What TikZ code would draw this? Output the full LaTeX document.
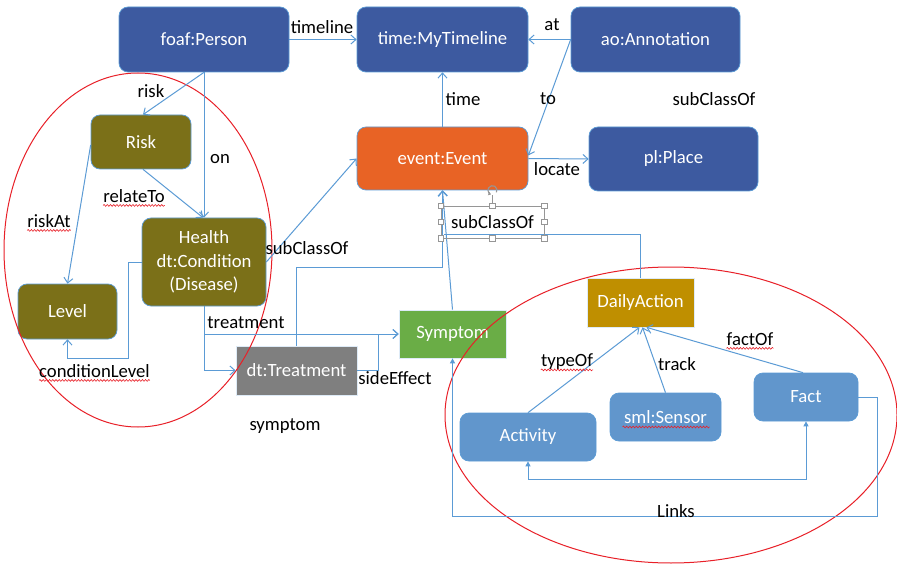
\documentclass[tikz,border=0pt]{standalone}
\usepackage{fontspec}
\setmainfont{Carlito}
\usetikzlibrary{arrows.meta,decorations.pathmorphing,calc}

\definecolor{ontoblue}{RGB}{61,90,160}
\definecolor{olive}{RGB}{123,112,24}
\definecolor{evorange}{RGB}{232,99,37}
\definecolor{sympgreen}{RGB}{106,173,70}
\definecolor{treatgray}{RGB}{127,127,127}
\definecolor{gold}{RGB}{191,143,0}
\definecolor{actblue}{RGB}{97,150,204}
\definecolor{linkblue}{RGB}{91,155,213}
\definecolor{ringred}{RGB}{232,32,40}
\definecolor{handlegray}{RGB}{150,150,150}

\tikzset{
  txt/.style={font=\fontsize{18.7}{23.5}\selectfont, inner sep=0pt},
  box/.style={txt, text=white, align=center, draw=linkblue, line width=0.7pt},
  roundbox/.style={box, rounded corners=9pt},
  plainbox/.style={box, draw=white!80!linkblue},
  lbl/.style={txt, text=black},
  link/.style={draw=linkblue, line width=1pt, -{Straight Barb[length=5pt,width=9pt]}},
  plainlink/.style={draw=linkblue, line width=1pt},
  ring/.style={draw=ringred, line width=1pt},
  spell/.style={draw=ringred, line width=0.6pt,
    decorate, decoration={snake, segment length=3.2pt, amplitude=0.9pt}},
  grip/.style={draw=handlegray, fill=white, line width=0.6pt, minimum size=5.5pt, inner sep=0pt}
}

\begin{document}
\begin{tikzpicture}[x=1pt,y=-1pt]
\useasboundingbox[fill=white] (0,0) rectangle (897,564);

% --- classes ---
\node[roundbox, fill=ontoblue, minimum width=170pt, minimum height=65pt] (person) at (204,39.5) {foaf:Person};
\node[roundbox, fill=ontoblue, minimum width=171pt, minimum height=65pt] (timeline) at (442.5,39.5) {time:MyTimeline};
\node[roundbox, fill=ontoblue, minimum width=169pt, minimum height=65pt] (annot) at (655.5,39.5) {ao:Annotation};
\node[roundbox, fill=evorange, minimum width=171pt, minimum height=63pt] (event) at (442.5,158.5) {event:Event};
\node[roundbox, fill=ontoblue, minimum width=169pt, minimum height=64pt] (place) at (673.5,159) {pl:Place};

\node[roundbox, fill=olive, minimum width=100pt, minimum height=54pt] (risk) at (141,142) {Risk};
\node[roundbox, fill=olive, minimum width=124pt, minimum height=88pt] (health) at (204,262) {Health\\dt:Condition\\(Disease)};
\node[roundbox, fill=olive, minimum width=99pt, minimum height=55pt] (level) at (67.5,311.5) {Level};

\node[plainbox, fill=treatgray, minimum width=121pt, minimum height=49pt] (treat) at (296.5,370.5) {dt:Treatment};
\node[plainbox, fill=sympgreen, minimum width=107pt, minimum height=48pt] (symptom) at (452.5,334) {Symptom};
\node[plainbox, fill=gold, minimum width=107pt, minimum height=49pt] (daily) at (640.5,302.5) {DailyAction};

\node[roundbox, fill=actblue, minimum width=136pt, minimum height=48pt] (activity) at (528,437) {Activity};
\node[roundbox, fill=actblue, minimum width=111pt, minimum height=48pt] (sensor) at (665.5,417) {sml:Sensor};
\node[roundbox, fill=actblue, minimum width=104pt, minimum height=48pt] (fact) at (806,397) {Fact};

% --- groupings ---
\draw[ring] (138,250) ellipse [x radius=134, y radius=177];
\draw[ring] (671,415) ellipse [x radius=226, y radius=148];

% --- connectors ---
\draw[link] (person.east) -- (timeline.west);
\draw[link] (annot.west) -- (timeline.east);
\draw[link] (annot.west) -- ([yshift=3pt]event.east);
\draw[link] (event.north) -- (timeline.south);
\draw[link] (event.east) -- (place.west);

\draw[link] (person.south) -- ([xshift=2pt]risk.north);
\draw[link] (person.south) -- (health.north);
\draw[link] ([xshift=2pt]risk.south) -- ([xshift=-1pt]health.north);
\draw[link] ([yshift=-3pt]risk.west) -- (level.north);
\draw[link] (health.west) -- ++(-13,0) -- ++(0,96) -| (level.south);
\draw[link] (health.east) -- (event.west);

\draw[link] (health.south) |- (symptom.west);
\draw[link] (health.south) |- (treat.west);
\draw[link] (treat.east) -- ++(21,0) |- (symptom.west);
\draw[link] (treat.north) -- ++(0,-78) -| (event.south);

\draw[link] (symptom.north) -- (event.south);
\draw[plainlink] (daily.north) |- ([xshift=1pt,yshift=-44pt]event.south);

\draw[link] (activity.north) -- ([xshift=-1pt]daily.south);
\draw[link] (sensor.north) -- ([xshift=2pt]daily.south);
\draw[link] ([xshift=-3pt]fact.north) -- ([xshift=6pt]daily.south);
\draw[plainlink, {Triangle[length=5pt,width=5pt]}-{Triangle[length=5pt,width=5pt]}]
  (activity.south) -- ++(0,18) -| (fact.south);
\draw[plainlink, -{Triangle[length=5pt,width=5pt]}]
  (fact.east) -- ++(19,0) -- ++(0,119) -| (symptom.south);

% --- connector labels ---
\node[lbl] (ltimeline) at (322,27) {timeline};
\node[lbl] (lat) at (552,25) {at};
\node[lbl] (lto) at (548,99) {to};
\node[lbl] (ltime) at (463,99) {time};
\node[lbl] (llocate) at (557,169) {locate};
\node[lbl] (lsubtop) at (714,99) {subClassOf};
\node[lbl] (lrisk) at (151,91) {risk};
\node[lbl] (lon) at (220,159) {on};
\node[lbl] (lrelate) at (134,196) {relateTo};
\node[lbl] (lriskat) at (49,221) {riskAt};
\node[lbl] (lcondlevel) at (94.5,371) {conditionLevel};
\node[lbl] (lsubhealth) at (307,248) {subClassOf};
\node[lbl] (ltreatment) at (246,323) {treatment};
\node[lbl] (lside) at (395,378) {sideEffect};
\node[lbl] (lsymptom) at (285,426) {symptom};
\node[lbl] (ltypeof) at (567,362) {typeOf};
\node[lbl] (ltrack) at (677,364) {track};
\node[lbl] (lfactof) at (750,339) {factOf};
\node[lbl] (llinks) at (676,511) {Links};

% spell-check underlines
\foreach \w in {lrelate,lriskat,lcondlevel,ltypeof,lfactof}
  \draw[spell] ([yshift=-3pt]\w.base west) -- ([yshift=-3pt]\w.base east);
\draw[spell] ($(sensor.center)+(-43,10)$) -- ($(sensor.center)+(44,10)$);

% --- selected text box with its handles ---
\node[lbl, draw=handlegray, line width=0.7pt, minimum width=103pt, minimum height=32pt] (selbox) at (492.5,222) {subClassOf};
\draw[handlegray, line width=0.7pt] (selbox.north) -- ++(0,-11) coordinate (rot);
% rotation handle: open circle with a small arrowhead
\coordinate (rotc) at ($(rot)+(0,-4.5)$);
\draw[handlegray, line width=1.1pt, -{Triangle[length=2.5pt,width=3.5pt]}]
  ($(rotc)+(3.9,2.25)$) arc[start angle=-30, end angle=250, radius=4.5pt];
\foreach \a in {north west,north,north east,west,east,south west,south,south east}
  \node[grip] at (selbox.\a) {};
\end{tikzpicture}
\end{document}
